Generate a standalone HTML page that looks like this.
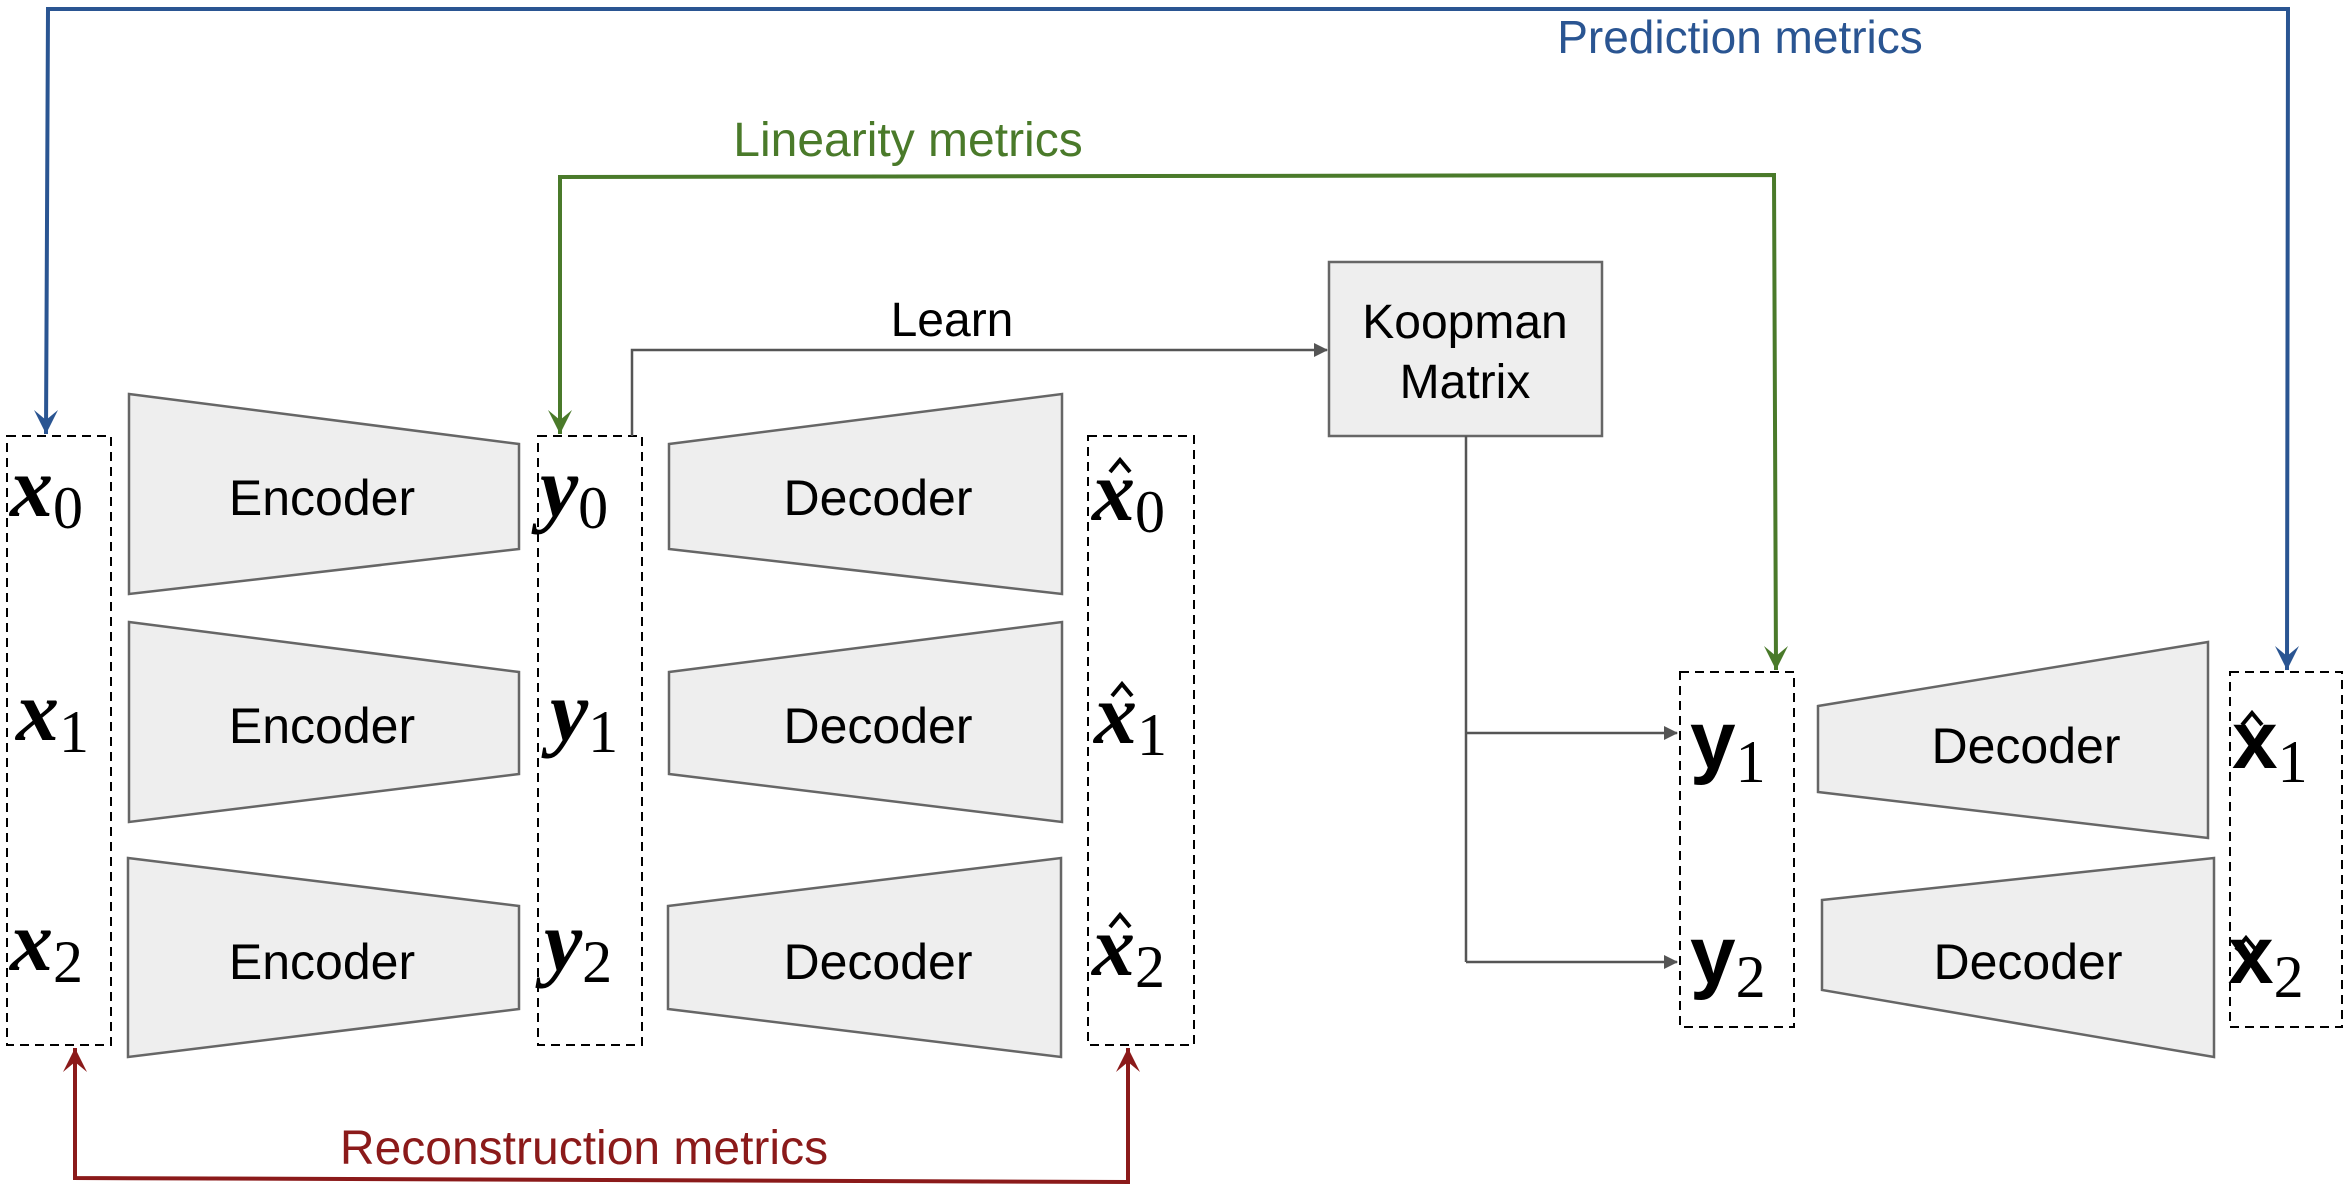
<!DOCTYPE html>
<html><head><meta charset="utf-8"><style>
html,body{margin:0;padding:0;background:#fff;}
svg{display:block;}
.t{font-family:"Liberation Sans",sans-serif;fill:#000;}
.m{font-family:"Liberation Serif",serif;font-style:italic;font-weight:bold;fill:#000;}
.s{font-family:"Liberation Serif",serif;font-style:normal;font-weight:normal;}
.b{font-family:"Liberation Sans",sans-serif;font-weight:bold;fill:#000;}
</style></head><body>
<svg width="2350" height="1190" viewBox="0 0 2350 1190" xmlns="http://www.w3.org/2000/svg">
<defs>
<marker id="ag" markerWidth="14" markerHeight="14" refX="13" refY="7" orient="auto" markerUnits="userSpaceOnUse"><path d="M0,0 L14,7 L0,14 z" fill="#555"/></marker>
</defs>
<g fill="#eeeeee" stroke="#666" stroke-width="2.5">
<polygon points="129,394 519,444 519,549 129,594"/>
<polygon points="129,622 519,672 519,774 129,822"/>
<polygon points="128,858 519,906 519,1009 128,1057"/>
<polygon points="669,444 1062,394 1062,594 669,549"/>
<polygon points="669,672 1062,622 1062,822 669,774"/>
<polygon points="668,906 1061,858 1061,1057 668,1009"/>
<polygon points="1818,706 2208,642 2208,838 1818,792"/>
<polygon points="1822,900 2214,858 2214,1057 1822,990"/>
<rect x="1329" y="262" width="273" height="174"/>
</g>
<g fill="none" stroke="#000" stroke-width="2" stroke-dasharray="9,6">
<rect x="7" y="436" width="104" height="609"/>
<rect x="538" y="436" width="104" height="609"/>
<rect x="1088" y="436" width="106" height="609"/>
<rect x="1680" y="672" width="114" height="355"/>
<rect x="2230" y="672" width="112" height="355"/>
</g>
<g fill="none" stroke="#555" stroke-width="2.5">
<polyline points="632,436 632,350 1327,350" marker-end="url(#ag)"/>
<polyline points="1466,436 1466,962"/>
<line x1="1466" y1="733" x2="1677" y2="733" marker-end="url(#ag)"/>
<line x1="1466" y1="962" x2="1677" y2="962" marker-end="url(#ag)"/>
</g>
<g fill="none" stroke="#2a5592" stroke-width="4">
<polyline points="46,434 48,9 2288,9 2287,670"/>
</g>
<path d="M34,410 L46,434 L58,410 L46,420 z" fill="#2a5592"/>
<path d="M2275,646 L2287,670 L2299,646 L2287,656 z" fill="#2a5592"/>
<g fill="none" stroke="#4a7a2a" stroke-width="4">
<polyline points="560,434 560,177 1774,175 1776,670"/>
</g>
<path d="M548,410 L560,434 L572,410 L560,420 z" fill="#4a7a2a"/>
<path d="M1764,646 L1776,670 L1788,646 L1776,656 z" fill="#4a7a2a"/>
<g fill="none" stroke="#8b1a1a" stroke-width="4">
<polyline points="75,1048 75,1178 1128,1182 1128,1048"/>
</g>
<path d="M63,1072 L75,1048 L87,1072 L75,1062 z" fill="#8b1a1a"/>
<path d="M1116,1072 L1128,1048 L1140,1072 L1128,1062 z" fill="#8b1a1a"/>
<text class="t" x="1740" y="53" font-size="46" text-anchor="middle" style="fill:#2a5592">Prediction metrics</text>
<text class="t" x="908" y="156" font-size="48" text-anchor="middle" style="fill:#4a7a2a">Linearity metrics</text>
<text class="t" x="584" y="1164" font-size="48" text-anchor="middle" style="fill:#8b1a1a">Reconstruction metrics</text>
<text class="t" x="952" y="336" font-size="48" text-anchor="middle">Learn</text>
<text class="t" x="1465" y="338" font-size="48" text-anchor="middle">Koopman</text>
<text class="t" x="1465" y="398" font-size="48" text-anchor="middle">Matrix</text>
<g class="t" font-size="50" text-anchor="middle">
<text x="322" y="515">Encoder</text>
<text x="322" y="743">Encoder</text>
<text x="322" y="979">Encoder</text>
<text x="878" y="515">Decoder</text>
<text x="878" y="743">Decoder</text>
<text x="878" y="979">Decoder</text>
<text x="2026" y="763">Decoder</text>
<text x="2028" y="979">Decoder</text>
</g>
<g class="m" font-size="86">
<text x="10" y="516">x<tspan class="s" font-size="60" dy="12">0</tspan></text>
<text x="16" y="740">x<tspan class="s" font-size="60" dy="12">1</tspan></text>
<text x="10" y="970">x<tspan class="s" font-size="60" dy="12">2</tspan></text>
<text x="540" y="516">y<tspan class="s" font-size="60" dy="12">0</tspan></text>
<text x="550" y="740">y<tspan class="s" font-size="60" dy="12">1</tspan></text>
<text x="544" y="970">y<tspan class="s" font-size="60" dy="12">2</tspan></text>
<text x="1092" y="520">x<tspan class="s" font-size="60" dy="12">0</tspan></text>
<text x="1094" y="743">x<tspan class="s" font-size="60" dy="12">1</tspan></text>
<text x="1092" y="975">x<tspan class="s" font-size="60" dy="12">2</tspan></text>
</g>
<g stroke="#000" stroke-width="4" fill="none">
<polyline points="1110,472 1120,460 1130,472"/>
<polyline points="1112,696 1122,684 1132,696"/>
<polyline points="1110,927 1120,915 1130,927"/>
<polyline points="2242,725 2252,713 2262,725"/>
<polyline points="2236,950 2246,938 2256,950"/>
</g>
<g font-size="82">
<text class="b" x="1690" y="768">y<tspan class="s" font-size="60" font-weight="normal" dy="14">1</tspan></text>
<text class="b" x="1690" y="983">y<tspan class="s" font-size="60" font-weight="normal" dy="14">2</tspan></text>
<text class="b" x="2232" y="768">x<tspan class="s" font-size="60" font-weight="normal" dy="14">1</tspan></text>
<text class="b" x="2228" y="983">x<tspan class="s" font-size="60" font-weight="normal" dy="14">2</tspan></text>
</g>
</svg>
</body></html>
